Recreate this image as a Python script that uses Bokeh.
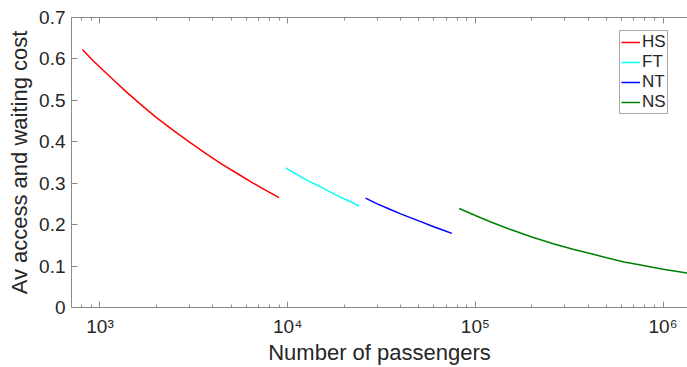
from bokeh.plotting import figure
from bokeh.models import (LogAxis, Range1d, FixedTicker, CustomJSTickFormatter,
                          Legend, LegendItem)
from bokeh.embed import file_html
from bokeh.resources import INLINE

# ---- data ----
hs_n = [806, 900, 1000, 1200, 1400, 1700, 2000, 2500, 3000, 3700, 4500, 5500, 6500, 7700, 9000]
hs_cost = [0.623, 0.600, 0.580, 0.546, 0.518, 0.485, 0.4585, 0.425, 0.399, 0.370, 0.345, 0.321, 0.301, 0.282, 0.265]
ft_n = [9750, 11000, 12000, 13500, 15000, 17000, 19000, 21500, 24000]
ft_cost = [0.337, 0.323, 0.313, 0.301, 0.291, 0.278, 0.267, 0.256, 0.245]
nt_n = [26000, 30000, 35000, 40000, 45000, 52000, 60000, 67000, 75000]
nt_cost = [0.264, 0.250, 0.237, 0.226, 0.217, 0.206, 0.195, 0.187, 0.179]
ns_n = [82000, 100000, 120000, 150000, 200000, 260000, 335000, 420000, 500000,
        620000, 760000, 880000, 1000000, 1170000, 1350000]
ns_cost = [0.239, 0.222, 0.207, 0.190, 0.170, 0.154, 0.140, 0.129, 0.120,
           0.110, 0.1025, 0.097, 0.0925, 0.0875, 0.083]

series_names = ["HS", "FT", "NT", "NS"]
series_colors = ["#ff0000", "#00ffff", "#0000ff", "#008000"]
y_ticks = [0, 0.1, 0.2, 0.3, 0.4, 0.5, 0.6, 0.7]

FONT = "Liberation Sans"
TEXT = "#262626"
AXC = "#8a8a8a"

p = figure(width=687, height=367, x_axis_type="log",
           x_range=Range1d(705, 1.35e6), y_range=Range1d(0, 0.7),
           output_backend="svg", toolbar_location=None,
           min_border_left=71, min_border_right=0,
           min_border_top=17, min_border_bottom=58)
p.outline_line_color = None
p.xgrid.grid_line_color = None
p.ygrid.grid_line_color = None
p.background_fill_color = "white"

renderers = []
for xs, ys, c in zip([hs_n, ft_n, nt_n, ns_n],
                     [hs_cost, ft_cost, nt_cost, ns_cost], series_colors):
    renderers.append(p.line(xs, ys, line_color=c, line_width=1.5))

sup_fmt = CustomJSTickFormatter(code="""
const sup = {'0':'\u2070','1':'\u00b9','2':'\u00b2','3':'\u00b3','4':'\u2074',
             '5':'\u2075','6':'\u2076','7':'\u2077','8':'\u2078','9':'\u2079','-':'\u207b'};
const e = Math.round(Math.log10(tick));
return '10' + String(e).split('').map(c => sup[c]).join('');
""")

xa = p.xaxis[0]
xa.formatter = sup_fmt
xa.axis_label = "Number of passengers"
ya = p.yaxis[0]
ya.ticker = FixedTicker(ticks=y_ticks)
ya.formatter = CustomJSTickFormatter(code="return Math.abs(tick) < 1e-9 ? '0' : tick.toFixed(1);")
ya.axis_label = "Av access and waiting cost"

for ax in (xa, ya):
    ax.axis_line_color = AXC
    ax.major_tick_line_color = AXC
    ax.major_tick_in = 6
    ax.major_tick_out = 0
    ax.minor_tick_in = 3
    ax.minor_tick_out = 0
    ax.major_label_text_font = FONT
    ax.major_label_text_font_size = "19px"
    ax.major_label_text_color = TEXT
    ax.axis_label_text_font = FONT
    ax.axis_label_text_font_size = "22px"
    ax.axis_label_text_font_style = "normal"
    ax.axis_label_text_color = TEXT
xa.minor_tick_line_color = AXC
ya.minor_tick_line_color = None

xa.major_label_standoff = 8
xa.axis_label_standoff = 0
ya.major_label_standoff = 6
ya.axis_label_standoff = 4

top = LogAxis(ticker=xa.ticker, formatter=CustomJSTickFormatter(code="return '';"))
top.axis_line_color = AXC
top.major_tick_line_color = AXC
top.minor_tick_line_color = AXC
top.major_tick_in = 6
top.major_tick_out = 0
top.minor_tick_in = 3
top.minor_tick_out = 0
top.major_label_standoff = 0
top.major_label_text_font_size = "1px"
p.add_layout(top, "above")

legend = Legend(items=[LegendItem(label=n, renderers=[r])
                       for n, r in zip(series_names, renderers)],
                location=(548, 193))
legend.border_line_color = "#555555"
legend.border_line_width = 1
legend.background_fill_color = "white"
legend.background_fill_alpha = 1
legend.label_text_font = FONT
legend.label_text_font_size = "17px"
legend.label_text_color = TEXT
legend.glyph_width = 19
legend.glyph_height = 20
legend.label_height = 20
legend.label_standoff = 2
legend.spacing = 0
legend.padding = 1
legend.margin = 0
p.add_layout(legend)

open("out.html", "w").write(file_html(p, INLINE))
